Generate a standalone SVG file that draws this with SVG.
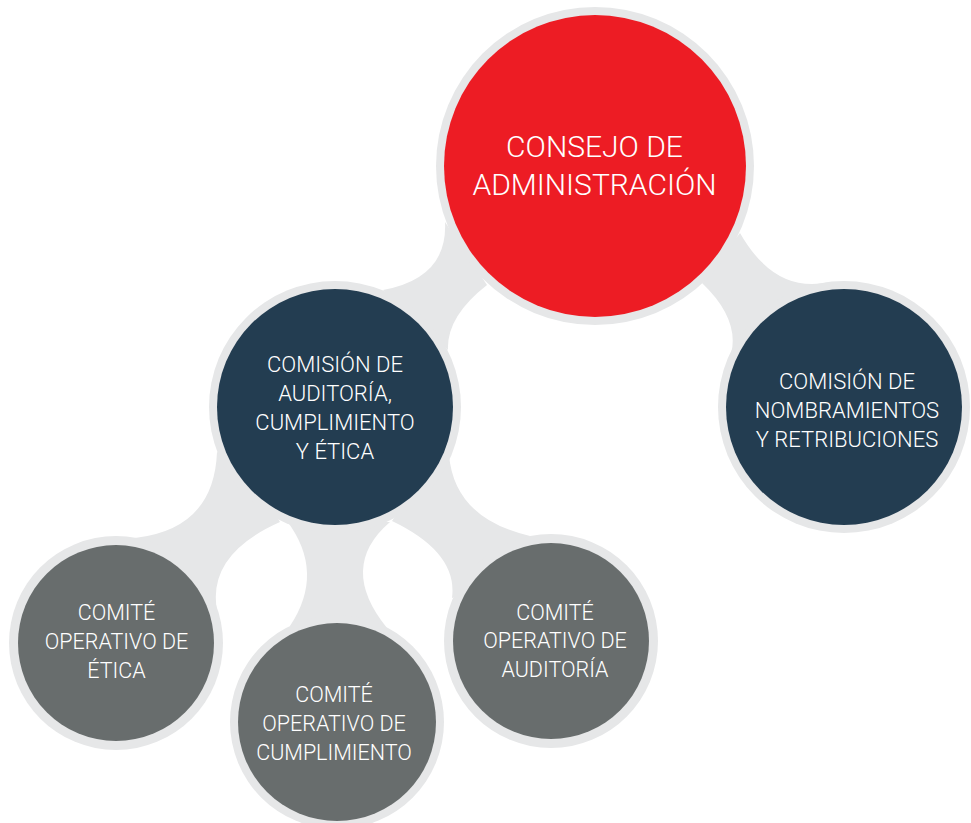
<svg xmlns="http://www.w3.org/2000/svg" width="971" height="823" viewBox="0 0 971 823">
  <style>
    .bridge { fill: #E6E7E8; }
    .ring { fill: #E6E7E8; }
    .red { fill: #ED1C24; }
    .navy { fill: #233D51; }
    .grey { fill: #686D6D; }
    text { font-family: Roboto, "Liberation Sans", sans-serif; font-weight: 300; fill: #FFFFFF; text-anchor: middle; }
    .big { font-size: 30px; }
    .mid { font-size: 22px; }
    .sm { font-size: 21.5px; }
  </style>
  <rect width="971" height="823" fill="#FFFFFF"/>
  <g id="connectors">
    <path class="bridge" d="M445,222 Q448,278 383,290 L448,350 Q446.5,316.5 487,285 Z"/>
    <path class="bridge" d="M740,233 Q775,294.5 830,282 L780,330 L727,365 Q746,325 702,283 Z"/>
    <path class="bridge" d="M217,452 Q214,529 135,538 L180,590 L221,625 Q197.5,558.5 280,522 L250,470 Z"/>
    <path class="bridge" d="M287,521 Q325.5,572.5 290,626 L387,628 Q337.5,567 390,522 Z"/>
    <path class="bridge" d="M449,455 Q454.5,518.5 530,536 L500,580 L452,598 Q458,552.5 392,521 L420,480 Z"/>
  </g>
  <g id="consejo">
    <circle class="ring" cx="595" cy="166" r="159"/>
    <circle class="red" cx="595" cy="166" r="151"/>
    <text class="big" x="594.5" y="157">CONSEJO DE</text>
    <text class="big" x="594.5" y="195">ADMINISTRACIÓN</text>
  </g>
  <g id="comision-auditoria">
    <circle class="ring" cx="335" cy="407" r="126"/>
    <circle class="navy" cx="335" cy="407" r="118"/>
    <text class="mid" x="335" y="372">COMISIÓN DE</text>
    <text class="mid" x="335" y="401">AUDITORÍA,</text>
    <text class="mid" x="335" y="430">CUMPLIMIENTO</text>
    <text class="mid" x="335" y="459">Y ÉTICA</text>
  </g>
  <g id="comision-nombramientos">
    <circle class="ring" cx="844" cy="407" r="126"/>
    <circle class="navy" cx="844" cy="407" r="118"/>
    <text class="mid" x="847" y="389">COMISIÓN DE</text>
    <text class="mid" x="847" y="418">NOMBRAMIENTOS</text>
    <text class="mid" x="847" y="447">Y RETRIBUCIONES</text>
  </g>
  <g id="comite-etica">
    <circle class="ring" cx="116" cy="643" r="107"/>
    <circle class="grey" cx="116" cy="643" r="98"/>
    <text class="sm" x="116.5" y="620">COMITÉ</text>
    <text class="sm" x="116.5" y="649">OPERATIVO DE</text>
    <text class="sm" x="116.5" y="678">ÉTICA</text>
  </g>
  <g id="comite-cumplimiento">
    <circle class="ring" cx="337" cy="722" r="107"/>
    <circle class="grey" cx="337" cy="722" r="99"/>
    <text class="sm" x="334" y="702">COMITÉ</text>
    <text class="sm" x="334" y="731">OPERATIVO DE</text>
    <text class="sm" x="334" y="760">CUMPLIMIENTO</text>
  </g>
  <g id="comite-auditoria">
    <circle class="ring" cx="551" cy="641" r="107"/>
    <circle class="grey" cx="551" cy="641" r="98"/>
    <text class="sm" x="555" y="620">COMITÉ</text>
    <text class="sm" x="555" y="648">OPERATIVO DE</text>
    <text class="sm" x="555" y="677">AUDITORÍA</text>
  </g>
</svg>
